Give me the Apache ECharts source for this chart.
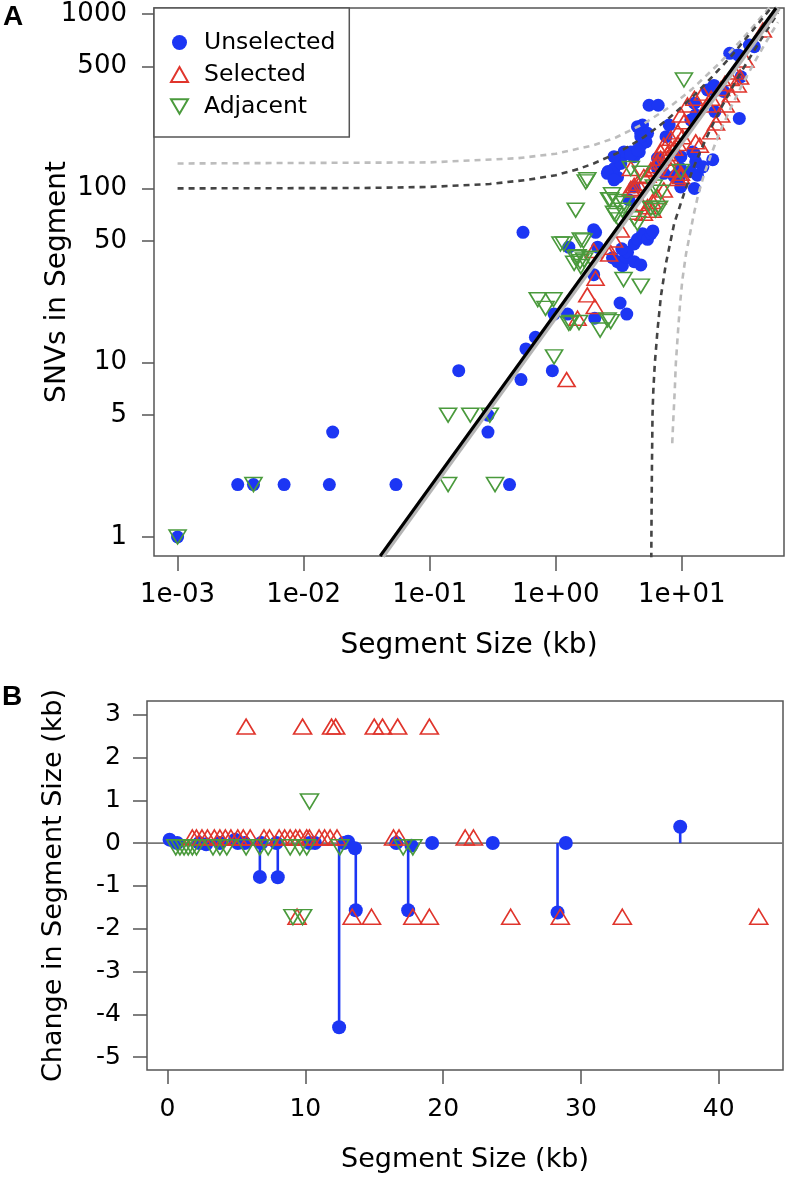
<!DOCTYPE html>
<html><head><meta charset="utf-8">
<script src="https://cdn.jsdelivr.net/npm/echarts@6/dist/echarts.min.js"></script>
<style>html,body{margin:0;padding:0;background:#fff}#c{width:789px;height:1181px}</style>
</head><body><div id="c"></div>
<script>
// ---------- tick values / labels ----------
const xTicksA = [0.001, 0.01, 0.1, 1, 10];
const xTickLabelsA = ['1e-03', '1e-02', '1e-01', '1e+00', '1e+01'];
const yTicksA = [1, 5, 10, 50, 100, 500, 1000];
const yTickLabelsA = ['1', '5', '10', '50', '100', '500', '1000'];
const xTicksB = [0, 10, 20, 30, 40];
const yTicksB = [-5, -4, -3, -2, -1, 0, 1, 2, 3];

// ---------- panel A: [segment size kb, SNVs] ----------
const unselectedA = [
  [0.001,1],[0.003,2],[0.004,2],[0.007,2],[0.016,2],[0.017,4],[0.054,2],[0.29,4],[0.29,5],[0.43,2],
  [0.17,9],[0.53,8],[0.94,9],[0.58,12],[0.69,14],[0.55,56],[0.97,19],[1.24,19],[2.04,18],[3.24,22],
  [3.66,19],[2.0,32],[2.07,56],[2.15,46],[2.0,58],[1.27,46],[2.82,40],[3.09,38],[3.38,36],[3.59,40.5],
  [3.71,43],[3.34,45],[4.19,38],[4.19,48],[4.45,51],[4.73,36.4],[4.88,55],[5.35,51],[5.7,55],[5.9,57],
  [2.6,125],[3.09,116],[9.8,102],[37.6,650],[34.4,665],[24,596],[28,583],[29.5,437],[28.6,252],[5.5,300],
  [6.5,300],[16,367],[18,390],[21.5,360],[12.6,308],[12.9,264],[11.8,247],[4.88,231],[4.45,226],[4.73,207],
  [5.35,207],[18.3,276],[17.6,146],[12.2,162],[12.9,142],[11.8,125],[13.3,119],[9.8,130],[12.6,100],[7.94,231],
  [7.5,198],[5.2,185],[4.73,177],[4.6,162],[3.28,149],[3.48,162],[2.9,130],[3.94,162],[4.19,152],[6.42,149],
  [6.42,130],[9.5,114],[7.2,122],[8.7,117],[3.28,139],[2.57,122],[2.9,112],[2.9,152],[3.94,156],[4.45,166],
  [4.73,198],[9.84,152],[12.6,158],[14.7,133],[4.19,102],[3.81,86]
];
const selectedA = [
  [1.22,8],[1.49,18],[1.78,24.5],[2.04,21],[2.07,30.5],[2.0,44],[2.65,42],[2.57,46],[2.9,50.6],[3.28,57.7],
  [4.19,73],[5.0,72],[5.86,75],[4.19,98],[4.73,82],[5.35,78.5],[5.86,84],[6.42,89.6],[7.2,98],[8.2,128],
  [9.3,128],[9.84,117],[3.94,100],[4.45,107],[5.0,117],[5.69,128],[6.22,135],[6.8,149],[7.7,158],[8.2,170],
  [9.3,181],[10.1,198],[10.4,241],[9.3,211],[8.2,194],[7.2,177],[6.8,162],[6.4,142],[5.9,130],[5.35,119],
  [7.7,149],[8.7,170],[9.84,264],[11.1,301],[12.6,329],[14.7,352],[12.9,185],[13.9,177],[16,301],[17.1,329],
  [20.5,374],[22.0,400],[24.5,427],[26.2,465],[17.1,211],[18.7,237],[20.5,264],[22.3,301],[24.5,344],[27.8,392],
  [29,436],[32,545],[44,810],[9.84,122],[9.3,114],[3.94,130],[4.19,104]
];
const adjacentA = [
  [0.001,1],[0.004,2],[0.14,2],[0.33,2],[0.14,5],[0.21,5],[0.30,5],[0.97,10.8],[0.72,23],[0.96,23],
  [0.83,20.5],[1.27,16.8],[1.31,17],[1.53,17],[2.25,15.4],[2.58,17.6],[2.73,17.2],[3.45,30],[4.73,27.5],[1.09,48],
  [1.16,48],[1.58,50.6],[1.66,50],[1.44,40],[1.49,40.5],[1.56,38],[1.68,38.8],[1.89,39.7],[1.40,37.2],[1.58,35.6],
  [1.44,75],[1.73,109],[1.78,112],[2.65,86],[2.7,86],[3.09,84],[3.48,82],[2.9,72],[3.38,75],[2.99,70],
  [3.18,66],[4.45,63],[4.19,67],[5.69,77],[6.2,75],[6.6,77],[2.8,92],[3.94,130],[4.73,122],[6.0,102],
  [6.8,95],[9.8,125],[10.4,419]
];
// fitted line and its band (end points)
const fitLine = [[0.0405,0.778],[56,1084]];
const fitBand = [[0.042,0.778],[58.1,1084]];
// dashed envelope curves
const upperDark = [[0.001,100],[0.03,100.5],[0.1,102],[0.3,106],[0.6,112],[1,119],[1.5,129],[2,139],[3,158],[4,178],[5,197],[6.5,226],[8,255],[10,294],[12,332],[15,390],[20,486],[25,580],[30,680],[38,835],[45,970],[52,1100]];
const upperLight = [[0.001,139],[0.1,141],[0.5,149],[1,158],[2,177],[3,196],[5,235],[8,293],[12,370],[20,525],[30,715],[40,910],[50,1100]];
const lowerDark = [[5.73,0.75],[5.74,1.0],[5.76,1.4],[5.8,2.6],[5.86,5.1],[5.95,7],[6.11,9.9],[6.42,15.4],[6.82,23.9],[7.48,37],[8.71,63],[10.45,94],[12,124],[14,163],[17,221],[20,280],[25,376],[30,473],[38,628],[45,764],[52,900],[58,1016]];
const lowerLight = [[8.4,3.45],[8.5,4.2],[8.61,5.1],[8.8,7],[8.97,9.9],[9.35,15.4],[9.7,22],[10.1,29.8],[10.8,42],[11.5,52.9],[12.4,70],[13.4,90],[15,120],[17,155],[20,210],[25,300],[30,390],[38,535],[45,662],[52,790],[58,898]];

// ---------- panel B: [segment size kb, change kb] ----------
const unselectedB = [
  [0.15,0.08],[0.7,0],[2.3,0],[2.8,-0.03],[3.8,0],[4.9,0.08],[5.1,0],[5.6,0],[6.8,0],[7.9,0],
  [10.3,0],[10.7,0],[12.8,0],[13.1,0.03],[13.6,-0.12],[16.6,0],[17.7,-0.06],[19.2,0],[23.6,0],[28.9,0],
  [6.7,-0.79],[8.0,-0.80],[12.45,-4.3],[13.66,-1.57],[17.46,-1.57],[28.3,-1.62],[37.2,0.38]
];
const selectedB = [
  [5.7,2.72],[9.8,2.72],[11.9,2.72],[12.2,2.72],[15.0,2.72],[15.6,2.72],[16.7,2.72],[19.0,2.72],
  [9.4,-1.72],[13.4,-1.72],[14.8,-1.72],[17.8,-1.72],[19.0,-1.72],[24.9,-1.72],[28.5,-1.72],[33.0,-1.72],[42.9,-1.72],
  [1.8,0.13],[2.1,0.13],[2.5,0.13],[2.9,0.13],[3.4,0.13],[3.8,0.13],[4.2,0.13],[4.6,0.13],[5.1,0.13],[5.5,0.13],
  [6.0,0.13],[7.0,0.13],[7.4,0.13],[8.1,0.13],[8.5,0.13],[8.9,0.13],[9.3,0.13],[9.6,0.13],[10.1,0.13],[10.3,0.13],
  [11.0,0.13],[11.4,0.13],[11.8,0.13],[12.3,0.13],[16.4,0.13],[16.8,0.13],[21.6,0.13],[22.2,0.13]
];
const adjacentB = [
  [0.6,-0.1],[0.9,-0.1],[1.2,-0.1],[1.5,-0.1],[1.8,-0.1],[2.1,-0.1],[3.3,-0.1],[3.8,-0.1],[4.3,-0.1],[5.7,-0.1],
  [6.7,-0.1],[7.3,-0.1],[8.9,-0.1],[9.6,-0.1],[10.1,-0.1],[12.5,-0.1],[17.1,-0.1],[17.8,-0.1],
  [10.3,0.97],[9.1,-1.73],[9.8,-1.73]
];

// ---------- styling ----------
const FONT = '"DejaVu Sans", Verdana, sans-serif';
const BLUE = '#1c36f4', RED = '#e0352c', GREEN = '#4a9a3c', BOX = '#555';
const DOWN_TRI = 'path://M0,0L20,0L10,17.3Z';
function labelFrom(ticks, labels) {
  return function (v) {
    for (let i = 0; i < ticks.length; i++) {
      if (Math.abs(v - ticks[i]) <= Math.abs(ticks[i]) * 1e-6 + 1e-9) return labels[i];
    }
    return '';
  };
}
function axis(o) {
  return Object.assign({
    axisLine: {show: false, onZero: false},
    splitLine: {show: false},
    nameLocation: 'middle',
    nameMoveOverlap: false,
    nameTextStyle: {fontSize: 28, color: '#000', fontFamily: FONT}
  }, o);
}
function ticks(vals, len) {
  return {show: true, inside: false, length: len, customValues: vals, lineStyle: {color: BOX, width: 1.5}};
}
function labels(vals, fmt, size, margin) {
  return {customValues: vals, formatter: fmt, fontSize: size, margin: margin, color: '#000', fontFamily: FONT};
}
const hollow = c => ({color: 'rgba(0,0,0,0)', borderColor: c, borderWidth: 1.6, opacity: 1});
function curve(data, color) {
  return {type: 'line', xAxisIndex: 0, yAxisIndex: 0, data: data, showSymbol: false, symbol: 'none',
    lineStyle: {color: color, width: 2.6, type: [6, 5]}, z: 5, silent: true};
}

const option = {
  animation: false,
  backgroundColor: '#fff',
  grid: [
    {left: 154, top: 8, width: 630, height: 548, show: true, borderColor: BOX, borderWidth: 1.5, outerBoundsMode: 'none'},
    {left: 147, top: 701, width: 636, height: 369, show: true, borderColor: BOX, borderWidth: 1.5, outerBoundsMode: 'none'}
  ],
  xAxis: [
    axis({gridIndex: 0, type: 'log', logBase: 10, min: 0.00065, max: 64.7,
      axisTick: ticks(xTicksA, 15), axisLabel: labels(xTicksA, labelFrom(xTicksA, xTickLabelsA), 26, 26),
      name: 'Segment Size (kb)', nameGap: 76}),
    axis({gridIndex: 1, type: 'value', min: -1.49, max: 44.66,
      axisTick: ticks(xTicksB, 14), axisLabel: labels(xTicksB, v => String(v), 25, 27),
      name: 'Segment Size (kb)', nameGap: 76, nameTextStyle: {fontSize: 27, color: '#000', fontFamily: FONT}})
  ],
  yAxis: [
    axis({gridIndex: 0, type: 'log', logBase: 10, min: 0.778, max: 1084,
      axisTick: ticks(yTicksA, 12), axisLabel: labels(yTicksA, labelFrom(yTicksA, yTickLabelsA), 26, 27),
      name: 'SNVs in Segment', nameGap: 82}),
    axis({gridIndex: 1, type: 'value', min: -5.30, max: 3.318,
      axisTick: ticks(yTicksB, 14), axisLabel: labels(yTicksB, v => String(v), 25, 26),
      name: 'Change in Segment Size (kb)', nameGap: 80, nameTextStyle: {fontSize: 27, color: '#000', fontFamily: FONT}})
  ],
  legend: {
    data: [
      {name: 'Unselected', icon: 'circle'},
      {name: 'Selected', icon: 'triangle'},
      {name: 'Adjacent', icon: DOWN_TRI}
    ],
    orient: 'vertical', left: 154, top: 8,
    padding: [22, 14, 18, 16], itemGap: 7, itemWidth: 17, itemHeight: 15,
    borderColor: BOX, borderWidth: 1.5, backgroundColor: '#fff',
    textStyle: {fontSize: 23.5, color: '#000', fontFamily: FONT, lineHeight: 25, padding: [0, 0, 0, 11]},
    selectedMode: false
  },
  graphic: [
    {type: 'text', left: 3, top: 3, style: {text: 'A', font: 'bold 28px "Liberation Sans", Arial, sans-serif', fill: '#000'}},
    {type: 'text', left: 2, top: 683, style: {text: 'B', font: 'bold 28px "Liberation Sans", Arial, sans-serif', fill: '#000'}}
  ],
  series: [
    // panel A
    {name: 'Unselected', type: 'scatter', xAxisIndex: 0, yAxisIndex: 0, data: unselectedA,
      symbol: 'circle', symbolSize: 13, itemStyle: {color: BLUE, opacity: 1}, z: 2},
    {name: 'Selected', type: 'scatter', xAxisIndex: 0, yAxisIndex: 0, data: selectedA,
      symbol: 'triangle', symbolSize: [17, 14], itemStyle: hollow(RED), z: 3},
    {name: 'Adjacent', type: 'scatter', xAxisIndex: 0, yAxisIndex: 0, data: adjacentA,
      symbol: DOWN_TRI, symbolSize: [17, 14], itemStyle: hollow(GREEN), z: 4},
    curve(upperLight, '#bdbdbd'), curve(lowerLight, '#bdbdbd'),
    curve(upperDark, '#444'), curve(lowerDark, '#444'),
    {type: 'line', xAxisIndex: 0, yAxisIndex: 0, data: fitBand, showSymbol: false, symbol: 'none',
      lineStyle: {color: '#b5b5b5', width: 6}, z: 6, silent: true},
    {type: 'line', xAxisIndex: 0, yAxisIndex: 0, data: fitLine, showSymbol: false, symbol: 'none',
      lineStyle: {color: '#000', width: 3}, z: 7, silent: true},
    // panel B
    {type: 'line', xAxisIndex: 1, yAxisIndex: 1, data: [[-1.49, 0], [44.66, 0]], showSymbol: false, symbol: 'none',
      lineStyle: {color: '#777', width: 1.8}, z: 1, silent: true},
    {type: 'custom', xAxisIndex: 1, yAxisIndex: 1, z: 2, silent: true,
      data: unselectedB.filter(d => Math.abs(d[1]) > 0.2),
      renderItem: function (params, api) {
        const p0 = api.coord([api.value(0), 0]);
        const p1 = api.coord([api.value(0), api.value(1)]);
        return {type: 'line', shape: {x1: p0[0], y1: p0[1], x2: p1[0], y2: p1[1]},
          style: {stroke: BLUE, lineWidth: 2.6}};
      }},
    {name: 'Unselected', type: 'scatter', xAxisIndex: 1, yAxisIndex: 1, data: unselectedB,
      symbol: 'circle', symbolSize: 14, itemStyle: {color: BLUE, opacity: 1}, z: 2},
    {name: 'Selected', type: 'scatter', xAxisIndex: 1, yAxisIndex: 1, data: selectedB,
      symbol: 'triangle', symbolSize: [18, 15], itemStyle: hollow(RED), z: 3},
    {name: 'Adjacent', type: 'scatter', xAxisIndex: 1, yAxisIndex: 1, data: adjacentB,
      symbol: DOWN_TRI, symbolSize: [18, 15], itemStyle: hollow(GREEN), z: 4}
  ]
};
const chart = echarts.init(document.getElementById('c'));
chart.setOption(option);
</script>
</body></html>
